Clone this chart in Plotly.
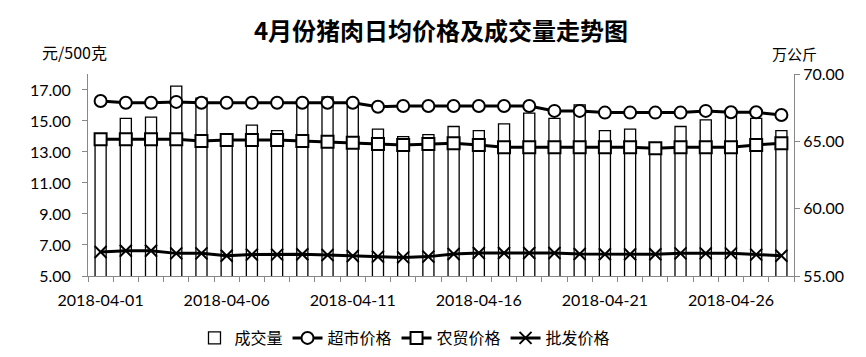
import plotly.graph_objects as go

dates = [f"2018-04-{d:02d}" for d in range(1, 29)]
volume = [65.2, 66.7, 66.8, 69.1, 68.2, 65.0, 66.2, 65.8, 67.8, 68.3,
          67.6, 65.9, 65.35, 65.5, 66.1, 65.8, 66.3, 67.1, 66.7, 67.7,
          65.8, 65.9, 64.3, 66.1, 66.6, 67.0, 66.7, 65.8]
supermarket = [16.29, 16.18, 16.18, 16.23, 16.18, 16.18, 16.18, 16.18, 16.18, 16.18,
               16.18, 15.92, 15.97, 15.97, 15.97, 15.97, 15.97, 15.97, 15.65, 15.65,
               15.54, 15.54, 15.54, 15.54, 15.65, 15.56, 15.56, 15.39]
farm = [13.82, 13.82, 13.82, 13.82, 13.71, 13.77, 13.77, 13.77, 13.71, 13.66,
        13.6, 13.52, 13.45, 13.52, 13.56, 13.45, 13.3, 13.3, 13.3, 13.3,
        13.3, 13.3, 13.24, 13.3, 13.3, 13.3, 13.45, 13.56]
wholesale = [6.55, 6.63, 6.63, 6.46, 6.46, 6.31, 6.38, 6.38, 6.4, 6.35,
             6.29, 6.25, 6.2, 6.25, 6.42, 6.48, 6.48, 6.48, 6.48, 6.42,
             6.4, 6.4, 6.4, 6.46, 6.46, 6.46, 6.38, 6.31]
left_ticks = [5, 7, 9, 11, 13, 15, 17]
right_ticks = [55, 60, 65, 70]

DAY = 86400000
font_main = "Lato, Noto Sans CJK SC, sans-serif"
cjk = "Noto Sans CJK SC, sans-serif"

fig = go.Figure()
fig.add_trace(go.Bar(x=dates, y=volume, name="成交量", yaxis="y",
                     width=0.44 * DAY,
                     marker=dict(color="white", line=dict(color="black", width=1.3))))
fig.add_trace(go.Scatter(x=dates, y=supermarket, name="超市价格", yaxis="y2",
                         mode="lines+markers", line=dict(color="black", width=3),
                         marker=dict(symbol="circle", size=12, color="white",
                                     line=dict(color="black", width=2))))
fig.add_trace(go.Scatter(x=dates, y=farm, name="农贸价格", yaxis="y2",
                         mode="lines+markers", line=dict(color="black", width=3),
                         marker=dict(symbol="square", size=12, color="white",
                                     line=dict(color="black", width=2))))
fig.add_trace(go.Scatter(x=dates, y=wholesale, name="批发价格", yaxis="y2",
                         mode="lines+markers", line=dict(color="black", width=3),
                         marker=dict(symbol="x-thin", size=12, color="black",
                                     line=dict(color="black", width=2))))

axis_gray = "#888888"
fig.update_layout(
    width=858, height=349,
    margin=dict(l=80, r=72, t=66, b=81, autoexpand=False),
    paper_bgcolor="white", plot_bgcolor="white",
    font=dict(family=font_main, size=16, color="black"),
    title=dict(text="<b>4月份猪肉日均价格及成交量走势图</b>", x=0.5, xanchor="center",
               xref="paper", y=0.931, yanchor="middle",
               font=dict(family=cjk, size=24, color="black")),
    showlegend=True,
    legend=dict(orientation="h", x=0.449, xanchor="center", y=-0.307, yanchor="middle",
                font=dict(family=cjk, size=16), traceorder="normal",
                itemwidth=30, bgcolor="rgba(0,0,0,0)"),
    bargap=0.5,
    xaxis=dict(type="date", range=["2018-03-31 12:00", "2018-04-28 12:00"],
               tick0="2018-04-01", dtick=5 * DAY, tickformat="%Y-%m-%d",
               ticks="", showgrid=False, showline=True, linecolor=axis_gray,
               linewidth=1, zeroline=False, ticklabelstandoff=10,
               tickfont=dict(family=font_main, size=16),
               minor=dict(tick0="2018-03-31 12:00", dtick=DAY, ticks="outside",
                          ticklen=5, tickcolor=axis_gray, showgrid=False)),
    yaxis=dict(side="right", range=[55, 70], tickvals=right_ticks,
               tickformat=".2f", ticks="outside", ticklen=5, tickcolor=axis_gray,
               showline=True, linecolor=axis_gray, showgrid=False, zeroline=False,
               tickfont=dict(family=font_main, size=16)),
    yaxis2=dict(side="left", overlaying="y", range=[5, 18.03], tickvals=left_ticks,
                tickformat=".2f", ticks="outside", ticklen=5, tickcolor=axis_gray,
                showline=True, linecolor=axis_gray, showgrid=False, zeroline=False,
                ticklabelstandoff=8,
                tickfont=dict(family=font_main, size=16)),
    annotations=[
        dict(text="元/500克", xref="paper", yref="paper", x=-0.068, y=1.109,
             xanchor="left", yanchor="middle", showarrow=False,
             font=dict(family=cjk, size=16)),
        dict(text="万公斤", xref="paper", yref="paper", x=1.0, y=1.10,
             xanchor="center", yanchor="middle", showarrow=False,
             font=dict(family=cjk, size=15)),
    ],
)

fig.write_html("out.html")
